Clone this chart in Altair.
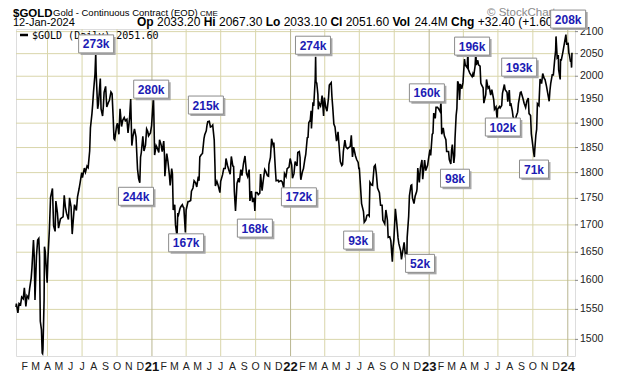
import altair as alt
import pandas as pd

# ---- price series (date, close) ----
gold_2020 = [
    ("2020-01-09", 1554), ("2020-01-10", 1560), ("2020-01-14", 1544), ("2020-01-17", 1560),
    ("2020-01-21", 1558), ("2020-01-24", 1571), ("2020-01-28", 1568), ("2020-01-31", 1587),
    ("2020-02-04", 1555), ("2020-02-07", 1573), ("2020-02-11", 1569), ("2020-02-14", 1586),
    ("2020-02-18", 1604), ("2020-02-20", 1622), ("2020-02-24", 1672), ("2020-02-26", 1643),
    ("2020-02-28", 1566), ("2020-03-03", 1644), ("2020-03-06", 1672), ("2020-03-09", 1675),
    ("2020-03-11", 1642), ("2020-03-13", 1530), ("2020-03-16", 1516), ("2020-03-18", 1478),
    ("2020-03-19", 1477), ("2020-03-20", 1484), ("2020-03-23", 1567), ("2020-03-24", 1660),
    ("2020-03-26", 1651), ("2020-03-31", 1596), ("2020-04-02", 1637), ("2020-04-06", 1693),
    ("2020-04-09", 1752), ("2020-04-14", 1769), ("2020-04-17", 1698), ("2020-04-21", 1688),
    ("2020-04-23", 1745), ("2020-04-27", 1723), ("2020-04-30", 1694), ("2020-05-05", 1711),
    ("2020-05-08", 1713), ("2020-05-12", 1715), ("2020-05-15", 1756), ("2020-05-18", 1734),
    ("2020-05-21", 1722), ("2020-05-26", 1710), ("2020-05-29", 1751), ("2020-06-02", 1734),
    ("2020-06-05", 1683), ("2020-06-09", 1720), ("2020-06-11", 1738), ("2020-06-16", 1727),
    ("2020-06-19", 1753), ("2020-06-23", 1768), ("2020-06-26", 1781), ("2020-06-30", 1800),
    ("2020-07-02", 1790), ("2020-07-07", 1809), ("2020-07-10", 1801), ("2020-07-14", 1813),
    ("2020-07-17", 1810), ("2020-07-21", 1843), ("2020-07-23", 1890), ("2020-07-27", 1920),
    ("2020-07-29", 1940), ("2020-07-31", 1965), ("2020-08-04", 2005), ("2020-08-06", 2052),
    ("2020-08-07", 2010), ("2020-08-11", 1930), ("2020-08-13", 1940), ("2020-08-18", 1995),
    ("2020-08-20", 1930), ("2020-08-24", 1915), ("2020-08-26", 1935), ("2020-08-28", 1965),
    ("2020-09-01", 1978), ("2020-09-04", 1934), ("2020-09-08", 1943), ("2020-09-11", 1948),
    ("2020-09-15", 1966), ("2020-09-18", 1962), ("2020-09-21", 1910), ("2020-09-23", 1868),
    ("2020-09-25", 1866), ("2020-09-30", 1895), ("2020-10-02", 1900), ("2020-10-06", 1877),
    ("2020-10-09", 1930), ("2020-10-13", 1893), ("2020-10-16", 1906), ("2020-10-20", 1912),
    ("2020-10-23", 1905), ("2020-10-27", 1908), ("2020-10-30", 1880), ("2020-11-03", 1910),
    ("2020-11-06", 1951), ("2020-11-09", 1854), ("2020-11-12", 1873), ("2020-11-16", 1888),
    ("2020-11-20", 1872), ("2020-11-24", 1807), ("2020-11-27", 1788), ("2020-11-30", 1780),
    ("2020-12-02", 1831), ("2020-12-04", 1840), ("2020-12-08", 1873), ("2020-12-11", 1843),
    ("2020-12-15", 1855), ("2020-12-18", 1888), ("2020-12-21", 1883), ("2020-12-23", 1874),
    ("2020-12-28", 1880), ("2020-12-31", 1895),
]
gold_2021 = [
    ("2021-01-04", 1944), ("2021-01-05", 1954), ("2021-01-06", 1918), ("2021-01-08", 1835),
    ("2021-01-12", 1854), ("2021-01-14", 1851), ("2021-01-19", 1840), ("2021-01-21", 1866),
    ("2021-01-25", 1856), ("2021-01-28", 1842), ("2021-02-01", 1863), ("2021-02-03", 1834),
    ("2021-02-04", 1793), ("2021-02-09", 1838), ("2021-02-12", 1823), ("2021-02-16", 1794),
    ("2021-02-18", 1775), ("2021-02-22", 1808), ("2021-02-24", 1797), ("2021-02-26", 1728),
    ("2021-03-02", 1738), ("2021-03-04", 1700), ("2021-03-08", 1679), ("2021-03-10", 1722),
    ("2021-03-12", 1719), ("2021-03-16", 1731), ("2021-03-18", 1734), ("2021-03-22", 1738),
    ("2021-03-24", 1734), ("2021-03-26", 1732), ("2021-03-30", 1686), ("2021-04-01", 1728),
    ("2021-04-06", 1744), ("2021-04-09", 1744), ("2021-04-13", 1746), ("2021-04-15", 1764),
    ("2021-04-19", 1770), ("2021-04-22", 1784), ("2021-04-26", 1780), ("2021-04-29", 1772),
    ("2021-05-03", 1792), ("2021-05-05", 1784), ("2021-05-07", 1831), ("2021-05-11", 1836),
    ("2021-05-14", 1838), ("2021-05-18", 1868), ("2021-05-20", 1876), ("2021-05-24", 1884),
    ("2021-05-26", 1896), ("2021-05-28", 1903), ("2021-06-01", 1904), ("2021-06-04", 1892),
    ("2021-06-08", 1894), ("2021-06-10", 1896), ("2021-06-14", 1865), ("2021-06-16", 1812),
    ("2021-06-17", 1774), ("2021-06-21", 1783), ("2021-06-24", 1776), ("2021-06-29", 1761),
    ("2021-07-01", 1783), ("2021-07-06", 1796), ("2021-07-09", 1808), ("2021-07-13", 1808),
    ("2021-07-15", 1828), ("2021-07-19", 1814), ("2021-07-22", 1806), ("2021-07-26", 1797),
    ("2021-07-29", 1832), ("2021-08-02", 1813), ("2021-08-04", 1812), ("2021-08-06", 1763),
    ("2021-08-09", 1726), ("2021-08-11", 1752), ("2021-08-13", 1779), ("2021-08-17", 1789),
    ("2021-08-19", 1781), ("2021-08-23", 1806), ("2021-08-26", 1794), ("2021-08-30", 1818),
    ("2021-09-03", 1833), ("2021-09-07", 1798), ("2021-09-10", 1792), ("2021-09-14", 1806),
    ("2021-09-16", 1745), ("2021-09-20", 1764), ("2021-09-23", 1743), ("2021-09-27", 1751),
    ("2021-09-29", 1726), ("2021-10-01", 1761), ("2021-10-05", 1761), ("2021-10-08", 1757),
    ("2021-10-12", 1760), ("2021-10-14", 1797), ("2021-10-18", 1765), ("2021-10-21", 1784),
    ("2021-10-25", 1806), ("2021-10-28", 1802), ("2021-11-01", 1794), ("2021-11-04", 1793),
    ("2021-11-05", 1816), ("2021-11-09", 1830), ("2021-11-12", 1868), ("2021-11-16", 1855),
    ("2021-11-18", 1860), ("2021-11-22", 1806), ("2021-11-24", 1784), ("2021-11-29", 1785),
    ("2021-12-01", 1782), ("2021-12-03", 1783), ("2021-12-07", 1784), ("2021-12-10", 1782),
    ("2021-12-14", 1770), ("2021-12-16", 1798), ("2021-12-20", 1792), ("2021-12-23", 1808),
    ("2021-12-28", 1811), ("2021-12-31", 1828),
]
gold_2022 = [
    ("2022-01-04", 1815), ("2022-01-06", 1789), ("2022-01-10", 1798), ("2022-01-13", 1822),
    ("2022-01-18", 1813), ("2022-01-20", 1840), ("2022-01-24", 1842), ("2022-01-26", 1830),
    ("2022-01-27", 1796), ("2022-01-28", 1786), ("2022-02-01", 1801), ("2022-02-04", 1808),
    ("2022-02-08", 1828), ("2022-02-10", 1836), ("2022-02-14", 1870), ("2022-02-16", 1871),
    ("2022-02-18", 1901), ("2022-02-22", 1907), ("2022-02-24", 1926), ("2022-02-25", 1889),
    ("2022-03-01", 1944), ("2022-03-03", 1936), ("2022-03-07", 1995), ("2022-03-08", 2043),
    ("2022-03-09", 1988), ("2022-03-11", 1985), ("2022-03-14", 1960), ("2022-03-15", 1929),
    ("2022-03-17", 1943), ("2022-03-21", 1936), ("2022-03-23", 1944), ("2022-03-25", 1958),
    ("2022-03-29", 1915), ("2022-03-31", 1954), ("2022-04-04", 1932), ("2022-04-07", 1925),
    ("2022-04-11", 1954), ("2022-04-13", 1981), ("2022-04-18", 1986), ("2022-04-20", 1955),
    ("2022-04-22", 1934), ("2022-04-25", 1898), ("2022-04-28", 1892), ("2022-05-02", 1863),
    ("2022-05-04", 1869), ("2022-05-06", 1882), ("2022-05-10", 1841), ("2022-05-12", 1822),
    ("2022-05-16", 1814), ("2022-05-18", 1816), ("2022-05-20", 1842), ("2022-05-24", 1865),
    ("2022-05-27", 1851), ("2022-05-31", 1848), ("2022-06-03", 1850), ("2022-06-07", 1852),
    ("2022-06-10", 1875), ("2022-06-13", 1831), ("2022-06-16", 1851), ("2022-06-21", 1833),
    ("2022-06-24", 1826), ("2022-06-28", 1820), ("2022-06-30", 1807), ("2022-07-01", 1810),
    ("2022-07-05", 1763), ("2022-07-07", 1740), ("2022-07-12", 1725), ("2022-07-14", 1705),
    ("2022-07-18", 1709), ("2022-07-21", 1718), ("2022-07-25", 1719), ("2022-07-27", 1717),
    ("2022-07-29", 1781), ("2022-08-02", 1776), ("2022-08-05", 1775), ("2022-08-09", 1812),
    ("2022-08-12", 1815), ("2022-08-15", 1797), ("2022-08-18", 1770), ("2022-08-23", 1761),
    ("2022-08-26", 1737), ("2022-08-30", 1737), ("2022-09-01", 1709), ("2022-09-06", 1702),
    ("2022-09-09", 1728), ("2022-09-13", 1709), ("2022-09-15", 1677), ("2022-09-19", 1678),
    ("2022-09-22", 1671), ("2022-09-26", 1633), ("2022-09-28", 1660), ("2022-09-30", 1672),
    ("2022-10-04", 1730), ("2022-10-07", 1709), ("2022-10-11", 1676), ("2022-10-13", 1666),
    ("2022-10-18", 1652), ("2022-10-20", 1637), ("2022-10-24", 1654), ("2022-10-27", 1668),
    ("2022-10-31", 1640), ("2022-11-02", 1650), ("2022-11-03", 1630), ("2022-11-04", 1676),
    ("2022-11-08", 1716), ("2022-11-10", 1755), ("2022-11-14", 1775), ("2022-11-16", 1776),
    ("2022-11-18", 1751), ("2022-11-22", 1740), ("2022-11-25", 1754), ("2022-11-29", 1763),
    ("2022-11-30", 1768), ("2022-12-02", 1809), ("2022-12-06", 1781), ("2022-12-09", 1810),
    ("2022-12-13", 1825), ("2022-12-15", 1787), ("2022-12-20", 1825), ("2022-12-23", 1804),
    ("2022-12-28", 1815), ("2022-12-30", 1826),
]
gold_2023 = [
    ("2023-01-03", 1846), ("2023-01-05", 1834), ("2023-01-09", 1877), ("2023-01-11", 1879),
    ("2023-01-13", 1921), ("2023-01-17", 1910), ("2023-01-19", 1933), ("2023-01-23", 1933),
    ("2023-01-26", 1930), ("2023-01-30", 1924), ("2023-02-01", 1945), ("2023-02-02", 1913),
    ("2023-02-03", 1877), ("2023-02-07", 1890), ("2023-02-10", 1874), ("2023-02-14", 1866),
    ("2023-02-16", 1842), ("2023-02-21", 1842), ("2023-02-23", 1826), ("2023-02-27", 1817),
    ("2023-03-01", 1845), ("2023-03-03", 1856), ("2023-03-07", 1819), ("2023-03-09", 1834),
    ("2023-03-10", 1868), ("2023-03-13", 1916), ("2023-03-15", 1931), ("2023-03-17", 1989),
    ("2023-03-20", 1982), ("2023-03-22", 1949), ("2023-03-24", 1983), ("2023-03-28", 1973),
    ("2023-03-31", 1986), ("2023-04-04", 2038), ("2023-04-06", 2025), ("2023-04-11", 2019),
    ("2023-04-13", 2055), ("2023-04-14", 2015), ("2023-04-18", 2007), ("2023-04-20", 2004),
    ("2023-04-24", 1999), ("2023-04-26", 2005), ("2023-04-28", 1999), ("2023-05-02", 2023),
    ("2023-05-04", 2056), ("2023-05-05", 2025), ("2023-05-09", 2035), ("2023-05-11", 2025),
    ("2023-05-15", 2022), ("2023-05-17", 1985), ("2023-05-19", 1981), ("2023-05-23", 1975),
    ("2023-05-25", 1942), ("2023-05-30", 1960), ("2023-06-01", 1993), ("2023-06-05", 1974),
    ("2023-06-08", 1977), ("2023-06-12", 1959), ("2023-06-15", 1971), ("2023-06-20", 1949),
    ("2023-06-22", 1929), ("2023-06-26", 1934), ("2023-06-29", 1908), ("2023-06-30", 1929),
    ("2023-07-05", 1935), ("2023-07-07", 1932), ("2023-07-11", 1937), ("2023-07-13", 1963),
    ("2023-07-18", 1982), ("2023-07-20", 1971), ("2023-07-25", 1965), ("2023-07-27", 1945),
    ("2023-07-31", 1970), ("2023-08-02", 1936), ("2023-08-04", 1942), ("2023-08-08", 1925),
    ("2023-08-10", 1913), ("2023-08-14", 1907), ("2023-08-16", 1902), ("2023-08-18", 1914),
    ("2023-08-22", 1923), ("2023-08-24", 1941), ("2023-08-29", 1965), ("2023-08-31", 1966),
    ("2023-09-05", 1952), ("2023-09-08", 1942), ("2023-09-12", 1933), ("2023-09-15", 1946),
    ("2023-09-19", 1953), ("2023-09-21", 1920), ("2023-09-25", 1916), ("2023-09-27", 1878),
    ("2023-09-29", 1866), ("2023-10-03", 1840), ("2023-10-05", 1831), ("2023-10-06", 1845),
    ("2023-10-09", 1876), ("2023-10-11", 1887), ("2023-10-13", 1941), ("2023-10-17", 1937),
    ("2023-10-20", 1994), ("2023-10-24", 1984), ("2023-10-27", 2006), ("2023-10-31", 1995),
    ("2023-11-02", 1993), ("2023-11-06", 1978), ("2023-11-09", 1964), ("2023-11-13", 1946),
    ("2023-11-15", 1969), ("2023-11-17", 1984), ("2023-11-21", 2003), ("2023-11-24", 2003),
    ("2023-11-28", 2041), ("2023-11-30", 2057), ("2023-12-01", 2089), ("2023-12-04", 2042),
    ("2023-12-07", 2047), ("2023-12-08", 2014), ("2023-12-12", 1993), ("2023-12-13", 2036),
    ("2023-12-15", 2036), ("2023-12-19", 2053), ("2023-12-21", 2063), ("2023-12-27", 2093),
    ("2023-12-29", 2072),
]
gold_2024 = [
    ("2024-01-02", 2073), ("2024-01-04", 2050), ("2024-01-05", 2049), ("2024-01-08", 2033),
    ("2024-01-10", 2032), ("2024-01-11", 2019), ("2024-01-12", 2052),
]

# ---- volume call-outs (box centre date / price, label) ----
ann_dates = ["2020-08-07", "2020-12-30", "2020-11-20", "2021-05-23", "2021-04-01",
             "2021-09-29", "2022-01-23", "2022-03-01", "2022-06-28", "2022-12-08",
             "2022-12-26", "2023-03-10", "2023-04-24", "2023-08-26", "2023-07-14",
             "2023-10-04", "2024-01-02"]
ann_prices = [2072, 1972, 1754, 1938, 1667, 1694, 1753, 2069, 1672, 1630,
              1964, 1789, 2067, 2020, 1892, 1807, 2129]
ann_labels = ["273k", "280k", "244k", "215k", "167k", "168k", "172k", "274k", "93k", "52k",
              "160k", "98k", "196k", "193k", "102k", "71k", "208k"]

# ---- axis ticks / grid ----
price_ticks = [1500, 1550, 1600, 1650, 1700, 1750, 1800, 1850, 1900, 1950, 2000, 2050, 2100]
quarter_lines = ["2020-04-01", "2020-07-01", "2020-10-01", "2021-04-01", "2021-07-01",
                 "2021-10-01", "2022-04-01", "2022-07-01", "2022-10-01", "2023-04-01",
                 "2023-07-01", "2023-10-01"]
year_lines = ["2021-01-01", "2022-01-01", "2023-01-01", "2024-01-01"]
year_labels = ["21", "22", "23", "24"]
month_starts = []
for yr in [2020, 2021, 2022, 2023]:
    for mo in range(2, 13):
        month_starts.append(f"{yr}-{mo:02d}-01")

series = pd.DataFrame(gold_2020 + gold_2021 + gold_2022 + gold_2023 + gold_2024,
                      columns=["date", "close"])
ann = pd.DataFrame({"date": ann_dates, "price": ann_prices, "label": ann_labels})
one = pd.DataFrame({"k": [0]})

FONT = "Liberation Sans"
W, H = 559, 327

x_scale = alt.Scale(type="utc",
                    domain=[alt.DateTime(year=2020, month=1, date=9, utc=True),
                            alt.DateTime(year=2024, month=1, date=20, utc=True)])
y_scale = alt.Scale(type="log", domain=[1473, 2106], nice=False)
X = dict(scale=x_scale, axis=None)
Y = dict(scale=y_scale, axis=None)

# grid
h_grid = alt.Chart(pd.DataFrame({"p": price_ticks})).mark_rule(
    color="#d9d6ab", strokeWidth=1).encode(y=alt.Y("p:Q", **Y))
quarter = alt.Chart(pd.DataFrame({"date": quarter_lines})).mark_rule(
    color="#d9d6ab", strokeWidth=1).encode(x=alt.X("date:T", **X))
years = alt.Chart(pd.DataFrame({"date": year_lines})).mark_rule(
    color="#b9b690", strokeWidth=1).encode(x=alt.X("date:T", **X))

# right price axis (ticks + labels)
y_ticks = alt.Chart(pd.DataFrame({"p": price_ticks})).mark_rule(
    color="#888888", strokeWidth=1).encode(
    y=alt.Y("p:Q", **Y), x=alt.value(W), x2=alt.value(W + 3))
y_labels = alt.Chart(pd.DataFrame({"p": price_ticks})).mark_text(
    align="left", baseline="middle", font=FONT, fontSize=10.5, color="#222222").encode(
    y=alt.Y("p:Q", **Y), x=alt.value(W + 5), text=alt.Text("p:Q", format="d"))

# bottom time axis (month initials, bold year numbers)
m_labels = alt.Chart(pd.DataFrame({"date": month_starts})).transform_calculate(
    lab="substring('JFMAMJJASOND', utcmonth(datum.date), utcmonth(datum.date) + 1)"
).mark_text(
    align="center", baseline="alphabetic", font=FONT, fontSize=10.5, color="#222222"
).encode(x=alt.X("date:T", **X), y=alt.value(H + 14), text="lab:N")
y_lab = alt.Chart(pd.DataFrame({"date": year_lines, "lab": year_labels})).mark_text(
    align="center", baseline="alphabetic", font=FONT, fontSize=13, fontWeight="bold",
    color="#111111"
).encode(x=alt.X("date:T", **X), y=alt.value(H + 14.5), text="lab:N")

line = alt.Chart(series).mark_line(color="black", strokeWidth=1.6).encode(
    x=alt.X("date:T", **X), y=alt.Y("close:Q", **Y))

box3 = "M-1.75,-0.9H1.75V0.9H-1.75Z"
box2 = "M-1.45,-0.9H1.45V0.9H-1.45Z"
box_shape = alt.condition("length(datum.label) > 3", alt.value(box3), alt.value(box2))
pos = dict(x=alt.X("date:T", **X), y=alt.Y("price:Q", **Y))

shadow = alt.Chart(ann).mark_point(
    filled=True, size=400, color="#a8a8a8", opacity=1, xOffset=2, yOffset=2
).encode(shape=box_shape, **pos)
boxes = alt.Chart(ann).mark_point(
    filled=True, size=400, fill="white", stroke="#8c8c8c", strokeWidth=1, opacity=1
).encode(shape=box_shape, **pos)
texts = alt.Chart(ann).mark_text(
    font=FONT, fontWeight="bold", fontSize=12, color="#1c1cb4", dy=0.5
).encode(text="label:N", **pos)


def label(txt, x, y, size=11, weight="normal", color="#000000", font=FONT):
    return alt.Chart(one).mark_text(
        align="left", baseline="alphabetic", fontSize=size, fontWeight=weight,
        color=color, font=font
    ).encode(x=alt.value(x), y=alt.value(y), text=alt.value(txt))


header = [
    label("$GOLD", -3, -12.5, size=11.5, weight="bold"),
    label("Gold - Continuous Contract (EOD)", 37, -13.5, size=9.5),
    label("CME", 184, -13.5, size=8),
    label("© StockCharts.com", 471, -13.5, size=11.5, color="#8a8a8a"),
    label("12-Jan-2024", -3, -3, size=11),
]
quote = [("Op", "bold", 121), ("2033.20", "normal", 141), ("Hi", "bold", 187.7),
         ("2067.30", "normal", 203), ("Lo", "bold", 249.7), ("2033.10", "normal", 267.7),
         ("Cl", "bold", 314.4), ("2051.60", "normal", 329.7), ("Vol", "bold", 376.4),
         ("24.4M", "normal", 398.4), ("Chg", "bold", 435.1), ("+32.40 (+1.60", "normal", 461.8)]
for txt, w, xx in quote:
    header.append(label(txt, xx, -3, size=12, weight=w))

legend_dash = alt.Chart(one).mark_rule(color="black", strokeWidth=2.5).encode(
    x=alt.value(4), x2=alt.value(12), y=alt.value(6))
legend_txt = alt.Chart(one).mark_text(
    align="left", baseline="middle", fontSize=10, font="DejaVu Sans Mono", color="#000000"
).encode(x=alt.value(16), y=alt.value(6.5), text=alt.value("$GOLD (Daily) 2051.60"))

chart = alt.layer(
    h_grid, quarter, years, y_ticks, y_labels, m_labels, y_lab, line,
    legend_dash, legend_txt, *header, shadow, boxes, texts
).properties(
    width=W, height=H,
    padding={"left": 8, "top": 21, "right": 37, "bottom": 19},
    autosize=alt.AutoSizeParams(type="none"),
).configure_view(
    fill="#f7f5cb", stroke="#9a9a9a", strokeWidth=1
).configure(
    font=FONT, background="white"
)

chart.save("out.html", embed_options={"renderer": "svg", "actions": False})
